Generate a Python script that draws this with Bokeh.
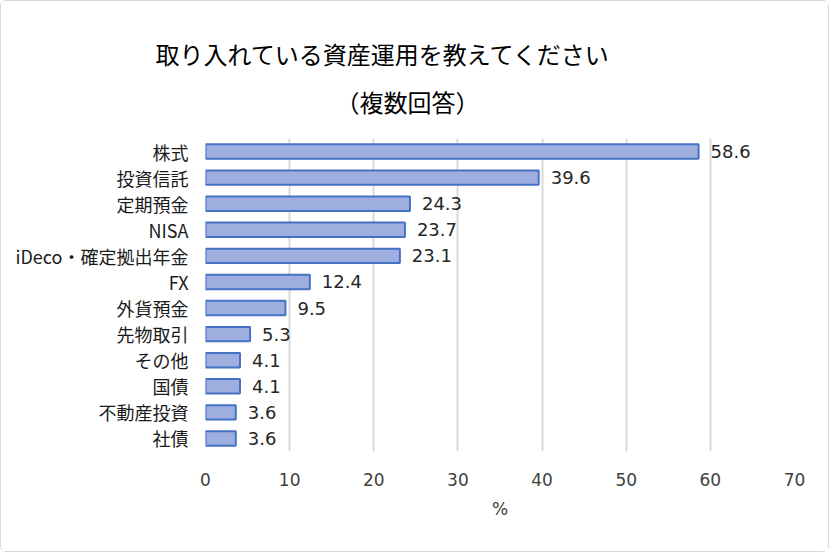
from bokeh.plotting import figure
from bokeh.models import ColumnDataSource, FixedTicker, FactorRange, Title
from bokeh.embed import file_html
from bokeh.resources import INLINE
from bokeh.core.properties import value

categories = ["株式", "投資信託", "定期預金", "NISA", "iDeco・確定拠出年金", "FX",
              "外貨預金", "先物取引", "その他", "国債", "不動産投資", "社債"]
values = [58.6, 39.6, 24.3, 23.7, 23.1, 12.4, 9.5, 5.3, 4.1, 4.1, 3.6, 3.6]
title1 = "取り入れている資産運用を教えてください"
title2 = "（複数回答）"
xlabel = "%"

FONT = "Noto Sans CJK JP"
NUMFONT = "DejaVu Sans"

cats_rev = categories[::-1]
vals_rev = values[::-1]
src = ColumnDataSource(dict(cat=cats_rev, val=vals_rev,
                            lab=[f"{v:.1f}" for v in vals_rev]))

W, H = 829, 552
p = figure(width=W, height=H, output_backend="svg", toolbar_location=None,
           x_range=(0, 70), y_range=FactorRange(factors=cats_rev, range_padding=0),
           min_border_left=204, min_border_right=36, min_border_top=137,
           min_border_bottom=102)
p.outline_line_color = None
p.background_fill_color = "white"
p.border_fill_color = "white"
p.styles = {"border": "1px solid #d9d9d9", "border-radius": "6px"}

p.hbar(y="cat", right="val", left=0, height=0.55, source=src,
       fill_color="#9eaede", line_color="#4472c4", line_width=2)

p.text(x="val", y="cat", text="lab", source=src, x_offset=12,
       text_baseline="middle", text_align="left", text_font=value(NUMFONT),
       text_font_size="18px", text_color="#262626")

p.xaxis.ticker = FixedTicker(ticks=list(range(0, 71, 10)))
p.xaxis.axis_line_color = None
p.xaxis.major_tick_line_color = None
p.xaxis.minor_tick_line_color = None
p.xaxis.major_label_text_font = NUMFONT
p.xaxis.major_label_text_font_size = "17px"
p.xaxis.major_label_text_color = "#404040"
p.xaxis.major_label_standoff = 15
p.xaxis.axis_label = xlabel
p.xaxis.axis_label_text_font = NUMFONT
p.xaxis.axis_label_text_font_size = "17px"
p.xaxis.axis_label_text_font_style = "normal"
p.xaxis.axis_label_text_color = "#404040"
p.xaxis.axis_label_standoff = 10

p.yaxis.axis_line_color = None
p.yaxis.major_tick_line_color = None
p.yaxis.minor_tick_line_color = None
p.yaxis.major_label_text_font = FONT
p.yaxis.major_label_text_font_size = "18px"
p.yaxis.major_label_text_color = "#1a1a1a"
p.yaxis.major_label_standoff = 11

p.xgrid.grid_line_color = "#d9d9d9"
p.xgrid.grid_line_width = 2
p.ygrid.grid_line_color = None

# two-line title; second line centred under the first with spaces
pad = "\u3000" * 7 + "\u2002"
p.add_layout(Title(text=title1 + "\n" + pad + title2, align="left", offset=-50,
                   text_font=FONT, text_font_size="24px",
                   text_font_style="normal", text_color="#000000",
                   text_line_height=1.35, standoff=40), "above")

open("out.html", "w").write(file_html(p, INLINE))
